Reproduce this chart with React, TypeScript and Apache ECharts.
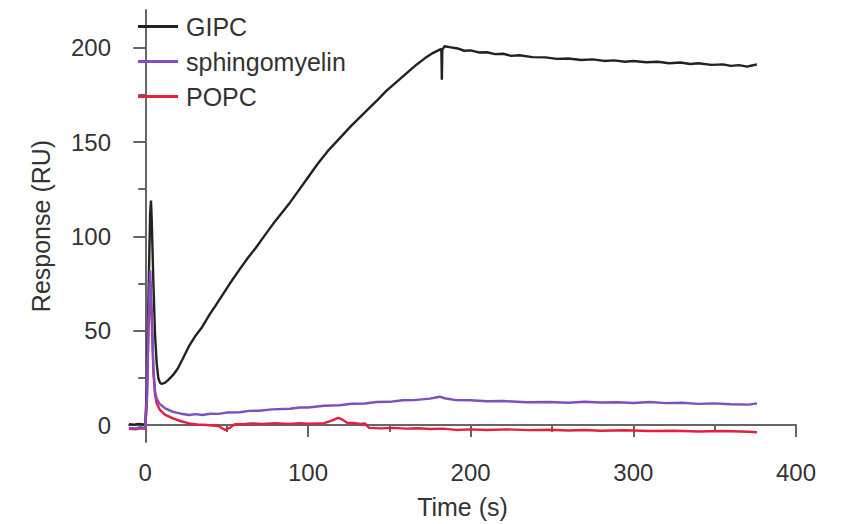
import React, { useEffect, useRef } from "react";
import * as echarts from "echarts";

const seriesNames = ["GIPC", "sphingomyelin", "POPC"];

const gipcData: [number, number][] = [
  [-10, 0.5], [-7, 0.2], [-4, 0.6], [-1, 0.3], [0, 0.5], [1, 20], [2, 70], [3, 112], [3.5, 119],
  [4, 108], [5, 75], [6, 48], [7, 33], [8, 25], [9, 22.5], [10, 21.8], [12, 22.3], [14, 23.8],
  [17, 26.4], [20, 30], [23, 35], [27, 42], [31, 47.5], [35, 52], [39.5, 58.5], [43, 63],
  [47.5, 69], [52, 75], [58, 82.5], [63, 88.5], [68, 94], [73, 100], [78.5, 106.5], [84, 112.5],
  [89, 118], [94, 124], [99, 130], [106, 138.5], [113, 146], [120, 152.5], [127, 159], [130, 161.5],
  [137, 167.5], [143, 172.5], [148, 177], [154, 181.5], [160, 186], [166.7, 191], [172, 194.5],
  [177, 197.3], [181, 199], [182, 199.5], [182.3, 183], [182.6, 199], [184, 200.8], [187, 200.3],
  [192, 199.6], [196, 198.4], [200, 198.6], [205, 197.5], [210, 197.6], [215, 196.6], [220, 196.8],
  [225, 195.7], [230, 196], [238, 195], [246, 194.9], [253, 194.1], [260, 194.3], [268, 193.5],
  [275, 193.8], [282, 193], [288, 193.3], [295, 192.6], [300, 193], [308, 192.3], [315, 192.6],
  [322, 191.8], [329, 192.2], [335, 191.4], [340, 191.8], [348, 190.9], [355, 191.2], [360, 190.4],
  [365, 190.8], [370, 190], [373, 190.6], [376, 191.2],
];

const sphingoData: [number, number][] = [
  [-10, -1.5], [-6, -1.8], [-3, -1.2], [0, -1.5], [1, 15], [2, 55], [3, 82], [4, 60], [5, 30],
  [6, 18], [7, 14], [9, 11], [12, 9], [17, 7], [22, 6], [27, 5.3], [31, 5.8], [35, 5.3],
  [40, 6], [45, 5.9], [50, 6.6], [58, 6.8], [64, 7.5], [70, 7.6], [78, 8.3], [89, 8.6],
  [95, 9.3], [100, 9.3], [110, 10.2], [119.5, 10.5], [127, 11.3], [135, 11.4], [142, 12.2],
  [150, 12.3], [158, 13.1], [165, 13.2], [175, 14], [181, 15], [184, 14.2], [191, 13.2],
  [200, 13.1], [210, 12.6], [220, 12.7], [234, 12.1], [248, 12.2], [260, 11.8], [270, 12.3],
  [280, 11.9], [290, 12.1], [300, 11.7], [310, 12.2], [320, 11.6], [330, 11.8], [340, 11.2],
  [350, 11.5], [360, 11], [371, 10.8], [376, 11.5],
];

const popcData: [number, number][] = [
  [-10, -2], [-6, -2.3], [-3, -1.8], [0, -2], [1, 12], [2, 50], [3, 76], [4, 55], [5, 28],
  [6, 16], [7, 11.5], [9, 8], [12, 5.5], [17, 3.5], [22, 2], [27, 0.9], [32, 0.3], [37.5, 0],
  [45, -0.5], [49, -2.6], [52, -1.5], [55, 0.5], [60, 0.4], [65, 0.9], [72, 0.6], [80, 1],
  [88, 0.6], [95, 1], [100, 0.7], [110, 1], [115, 2.5], [118.5, 3.8], [121, 3], [124, 1.2],
  [128, 1.1], [132, 0.6], [135, 0.9], [137.6, -1.5], [145, -1.8], [152, -1.5], [160, -1.9],
  [168, -1.7], [175, -2.1], [183, -1.9], [191, -2.6], [200, -2.3], [210, -2.6], [222, -2.3],
  [235, -2.7], [248, -2.5], [260, -2.9], [270, -2.6], [280, -3], [295, -2.8], [310, -3.2],
  [325, -3], [340, -3.4], [355, -3.2], [371, -3.6], [376, -3.8],
];

const xMajorTicks = [0, 100, 200, 300, 400];
const xMinorTicks = [50, 150, 250, 350];
const yMajorTicks = [0, 50, 100, 150, 200];
const yMinorTicks = [25, 75, 125, 175];

const colors = { GIPC: "#222222", sphingomyelin: "#7f4fbf", POPC: "#e5203c" };
const axisColor = "#666666";
const textColor = "#333333";
const font = "Liberation Sans, Arial, Helvetica, sans-serif";

export default function App() {
  const ref = useRef<HTMLDivElement>(null);
  useEffect(() => {
    if (!ref.current) return;
    const chart = echarts.init(ref.current, undefined, { renderer: "svg" });
    const xBase = { type: "value", min: -10, max: 400, gridIndex: 0, splitLine: { show: false } };
    const yBase = { type: "value", min: -9, max: 220, gridIndex: 0, splitLine: { show: false } };
    chart.setOption({
      animation: false,
      backgroundColor: "#ffffff",
      grid: { left: 129, right: 60, top: 10, bottom: 80 },
      legend: {
        orient: "vertical",
        left: 138,
        top: 14,
        padding: 0,
        itemGap: 10,
        itemWidth: 40,
        itemHeight: 3,
        icon: "rect",
        data: seriesNames,
        textStyle: { fontSize: 25, lineHeight: 25, color: textColor, fontFamily: font, padding: [0, 0, 0, 3] },
      },
      xAxis: [
        {
          ...xBase,
          position: "bottom",
          name: "Time (s)",
          nameLocation: "middle",
          nameGap: 52,
          nameTextStyle: { fontSize: 25, color: textColor, fontFamily: font },
          axisLine: { show: true, lineStyle: { color: axisColor, width: 2 } },
          axisTick: { show: true, customValues: xMajorTicks, length: 12, lineStyle: { color: axisColor, width: 2 } },
          axisLabel: { show: true, customValues: xMajorTicks, margin: 18, fontSize: 24, color: textColor, fontFamily: font },
        },
        {
          ...xBase,
          position: "bottom",
          axisLine: { show: false },
          axisTick: { show: true, customValues: xMinorTicks, length: 7, lineStyle: { color: axisColor, width: 2 } },
          axisLabel: { show: false },
        },
      ],
      yAxis: [
        {
          ...yBase,
          position: "left",
          name: "Response (RU)",
          nameLocation: "middle",
          nameGap: 76,
          nameTextStyle: { fontSize: 25, color: textColor, fontFamily: font },
          axisLine: { show: true, lineStyle: { color: axisColor, width: 2 } },
          axisTick: { show: true, customValues: yMajorTicks, length: 12, lineStyle: { color: axisColor, width: 2 } },
          axisLabel: { show: true, customValues: yMajorTicks, margin: 18, fontSize: 24, color: textColor, fontFamily: font },
        },
        {
          ...yBase,
          position: "left",
          axisLine: { show: false },
          axisTick: { show: true, customValues: yMinorTicks, length: 7, lineStyle: { color: axisColor, width: 2 } },
          axisLabel: { show: false },
        },
      ],
      series: [
        {
          name: "GIPC",
          type: "line",
          data: gipcData,
          showSymbol: false,
          symbol: "none",
          itemStyle: { color: colors.GIPC },
          lineStyle: { color: colors.GIPC, width: 2.4 },
          z: 2,
        },
        {
          name: "POPC",
          type: "line",
          data: popcData,
          showSymbol: false,
          symbol: "none",
          itemStyle: { color: colors.POPC },
          lineStyle: { color: colors.POPC, width: 2.4 },
          z: 3,
        },
        {
          name: "sphingomyelin",
          type: "line",
          data: sphingoData,
          showSymbol: false,
          symbol: "none",
          itemStyle: { color: colors.sphingomyelin },
          lineStyle: { color: colors.sphingomyelin, width: 2.4 },
          z: 4,
        },
      ],
    });
    return () => chart.dispose();
  }, []);
  return (
    <div
      ref={ref}
      style={{ position: "fixed", left: 0, top: 0, width: 856, height: 524, background: "#fff" }}
    />
  );
}
